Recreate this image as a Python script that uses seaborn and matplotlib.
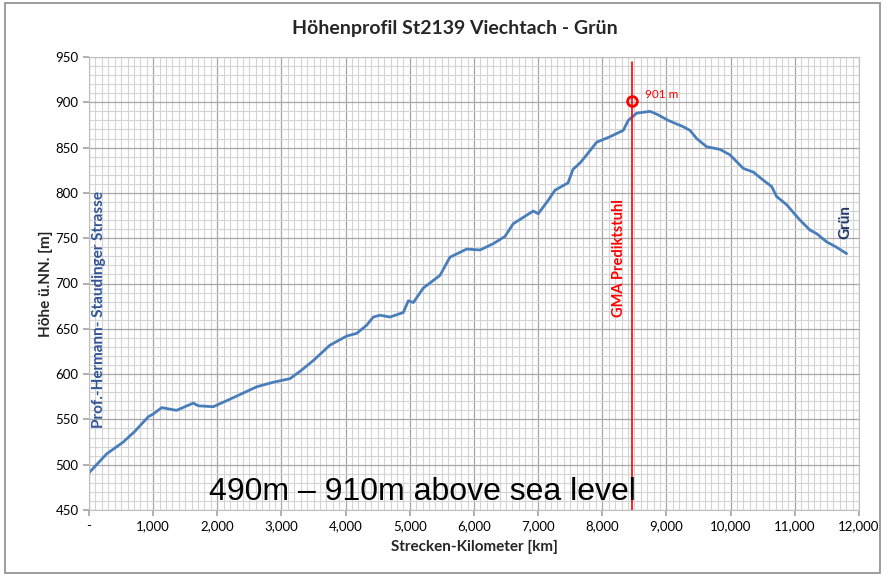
import numpy as np
import pandas as pd
import matplotlib
matplotlib.use("Agg")
import matplotlib.pyplot as plt
from matplotlib.ticker import MultipleLocator, FixedLocator
from matplotlib.patches import Rectangle
import seaborn as sns

# elevation profile (distance in m, height in m)
distance = [0, 276, 534, 717, 925, 1002, 1133, 1365, 1625, 1703, 1937, 2249,
            2613, 2872, 3133, 3288, 3496, 3756, 3860, 4016, 4172, 4328, 4431,
            4535, 4691, 4898, 4977, 5055, 5210, 5470, 5625, 5886, 6094, 6302,
            6483, 6612, 6768, 6924, 7001, 7158, 7262, 7465, 7543, 7652, 7756,
            7912, 8119, 8326, 8404, 8535, 8743, 8847, 9028, 9262, 9366, 9470,
            9625, 9834, 9989, 10197, 10353, 10509, 10639, 10716, 10872, 11080,
            11236, 11340, 11495, 11651, 11807]
height = [491, 512, 525, 537, 553, 556, 563, 560, 568, 565, 564, 574,
          586, 591, 595, 603, 615, 632, 636, 642, 645, 654, 663,
          665, 663, 668, 681, 679, 695, 709, 729, 738, 737, 744,
          752, 766, 773, 780, 777, 792, 803, 811, 826, 833, 842,
          856, 862, 869, 880, 888, 890, 887, 880, 873, 869, 860,
          851, 848, 842, 827, 823, 814, 807, 796, 787, 770,
          759, 755, 746, 740, 733]

peak_km = 8460
peak_height = 901
x_ticks = list(range(0, 12001, 1000))
x_labels = ["-"] + [f"{v:,}" for v in x_ticks[1:]]
y_ticks = list(range(450, 951, 50))

df = pd.DataFrame({"km": distance, "hoehe": height})

sns.set_theme(style="white")
plt.rcParams["font.family"] = ["Lato", "DejaVu Sans"]

fig = plt.figure(figsize=(8.86, 5.74), dpi=100)
ax = fig.add_axes([89 / 886, 1 - 510 / 574, (859 - 89) / 886, (510 - 57) / 574])

# graph-paper grid
ax.set_xlim(0, 12000)
ax.set_ylim(450, 950)
ax.xaxis.set_major_locator(FixedLocator(x_ticks))
ax.xaxis.set_minor_locator(MultipleLocator(100))
ax.yaxis.set_major_locator(FixedLocator(y_ticks))
ax.yaxis.set_minor_locator(MultipleLocator(10))
ax.grid(which="minor", color="#d4d4d4", linewidth=0.8)
ax.grid(which="major", color="#a6a6a6", linewidth=0.9)
ax.set_axisbelow(True)

sns.lineplot(data=df, x="km", y="hoehe", color="#4a7ebb", linewidth=2.0, ax=ax)

# GMA marker
ax.plot([peak_km, peak_km], [450, 945], color="red", linewidth=1.2, clip_on=False)
ax.plot(peak_km, peak_height, marker="o", markersize=7, markerfacecolor="none",
        markeredgecolor="red", markeredgewidth=2)
ax.text(peak_km + 200, peak_height + 2, "901 m", color="red", fontsize=8.5,
        va="bottom", ha="left")
ax.text(peak_km - 200, 728, "GMA Prediktstuhl", color="red", fontsize=10.5,
        fontweight="bold", rotation=90, ha="center", va="center")

ax.text(150, 671, "Prof.-Hermann- Staudinger Strasse", color="#2f5597",
        fontsize=11, fontweight="bold", rotation=90, ha="center", va="center")
ax.text(11780, 768, "Grün", color="#1f3864", fontsize=11, fontweight="bold",
        rotation=90, ha="center", va="center")

ax.text(5190, 470, "490m – 910m above sea level", fontsize=23,
        family=["Liberation Sans", "DejaVu Sans"], color="black",
        ha="center", va="center")

ax.set_xticks(x_ticks)
ax.set_xticklabels(x_labels)
ax.tick_params(axis="both", which="major", labelsize=9.5, colors="#a6a6a6",
               labelcolor="black", length=4, direction="out", bottom=True, left=True)
ax.tick_params(axis="both", which="minor", length=0)
ax.tick_params(axis="x", pad=3)

for side in ["left", "bottom", "top", "right"]:
    ax.spines[side].set_color("#bfbfbf")
    ax.spines[side].set_linewidth(0.8)

ax.set_xlabel("Strecken-Kilometer [km]", fontsize=11, fontweight="bold", labelpad=6)
ax.set_ylabel("Höhe ü.NN. [m]", fontsize=11, fontweight="bold", labelpad=2)

fig.suptitle("Höhenprofil St2139 Viechtach - Grün", x=0.513, y=0.965,
             fontsize=14, fontweight="bold")

# chart frame
fig.patches.append(Rectangle((5 / 886, 0.002), 875 / 886, 1 - 4 / 574,
                             transform=fig.transFigure, fill=False,
                             edgecolor="#8c8c8c", linewidth=1.2))

fig.savefig("out.png", dpi=100)
